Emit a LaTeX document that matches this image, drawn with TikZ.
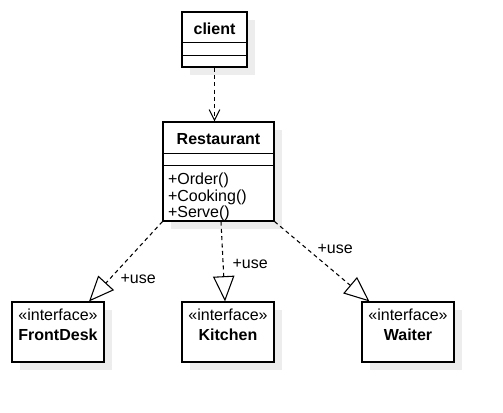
\documentclass[tikz,border=0pt]{standalone}
\usepackage{fontspec}
\setmainfont{Liberation Sans}
\usetikzlibrary {positioning,arrows.meta,shadows}

\begin{document}
\begin{tikzpicture}[x=0.75pt ,y=0.75pt ,auto ,on grid ,
    line width=0.8pt ,
    classbox/.style ={rectangle ,draw ,fill=white ,
    drop shadow={shadow xshift=6pt ,shadow yshift=-6pt ,fill=black!7 ,opacity=1}},
    iface/.style ={classbox ,minimum width =69pt ,minimum height =45pt},
    txt/.style ={font=\fontsize{12}{14}\selectfont ,inner sep=0pt ,anchor=base},
    title/.style ={txt ,font=\fontsize{12}{14}\selectfont\bfseries},
    dep/.style ={dash pattern=on 3pt off 2.5pt ,-{Straight Barb[length=8pt,width=8pt]}},
    real/.style ={dash pattern=on 3pt off 2.5pt ,-{Triangle[open,length=19pt,width=16pt]}}
    ]
\useasboundingbox (0,0) rectangle (503,-412);

% classes
\node[classbox ,minimum width =83.25pt ,minimum height =74.25pt] (restaurant) at (218.5,-171.5) {};
\node[classbox ,minimum width =48.75pt ,minimum height =41.25pt] (client) [above=99pt of restaurant ,xshift=-3pt] {};
\draw ([yshift=-23.25pt]client.north west) -- ([yshift=-23.25pt]client.north east);
\draw ([yshift=-33pt]client.north west) -- ([yshift=-33pt]client.north east);
\draw ([yshift=-24pt]restaurant.north west) -- ([yshift=-24pt]restaurant.north east);
\draw ([yshift=-33pt]restaurant.north west) -- ([yshift=-33pt]restaurant.north east);

\node[title] (client-name) at ([yshift=-16.9pt]client.north) {client};
\node[title] (restaurant-name) at ([yshift=-17.25pt]restaurant.north) {Restaurant};
\node[txt ,anchor=base west] (order) at ([xshift=3.75pt ,yshift=-47.6pt]restaurant.north west) {+Order()};
\node[txt ,anchor=base west] (cooking) at ([yshift=-12.3pt]order.base west) {+Cooking()};
\node[txt ,anchor=base west] (serve) at ([yshift=-12.3pt]cooking.base west) {+Serve()};

% interfaces
\node[iface] (kitchen) [below=120.375pt of restaurant ,xshift=7.125pt] {};
\node[iface] (frontdesk) [left=127.5pt of kitchen] {};
\node[iface] (waiter) [right=135pt of kitchen] {};
\node[txt] (frontdesk-st) at ([yshift=-14pt]frontdesk.north) {«interface»};
\node[title] (frontdesk-name) at ([yshift=-29pt]frontdesk.north) {FrontDesk};
\node[txt] (kitchen-st) at ([yshift=-14pt]kitchen.north) {«interface»};
\node[title] (kitchen-name) at ([yshift=-29pt]kitchen.north) {Kitchen};
\node[txt] (waiter-st) at ([yshift=-14pt]waiter.north) {«interface»};
\node[title] (waiter-name) at ([yshift=-29pt]waiter.north) {Waiter};

% connectors
\draw[dep] (client.south) -- (client.south |- restaurant.north);
\draw[real] (restaurant.south west) -- node[txt ,pos=0.778 ,anchor=base west ,xshift=11pt] (use-fd) {+use} ([xshift=23.25pt]frontdesk.north);
\draw[real] ([xshift=1.875pt]restaurant.south) -- node[txt ,pos=0.593 ,anchor=base west ,xshift=6.5pt] (use-k) {+use} ([xshift=-2.25pt]kitchen.north);
\draw[real] (restaurant.south east) -- node[txt ,pos=0.395 ,anchor=base west ,xshift=3.75pt] (use-w) {+use} ([xshift=6pt]waiter.north west);
\end{tikzpicture}
\end{document}
